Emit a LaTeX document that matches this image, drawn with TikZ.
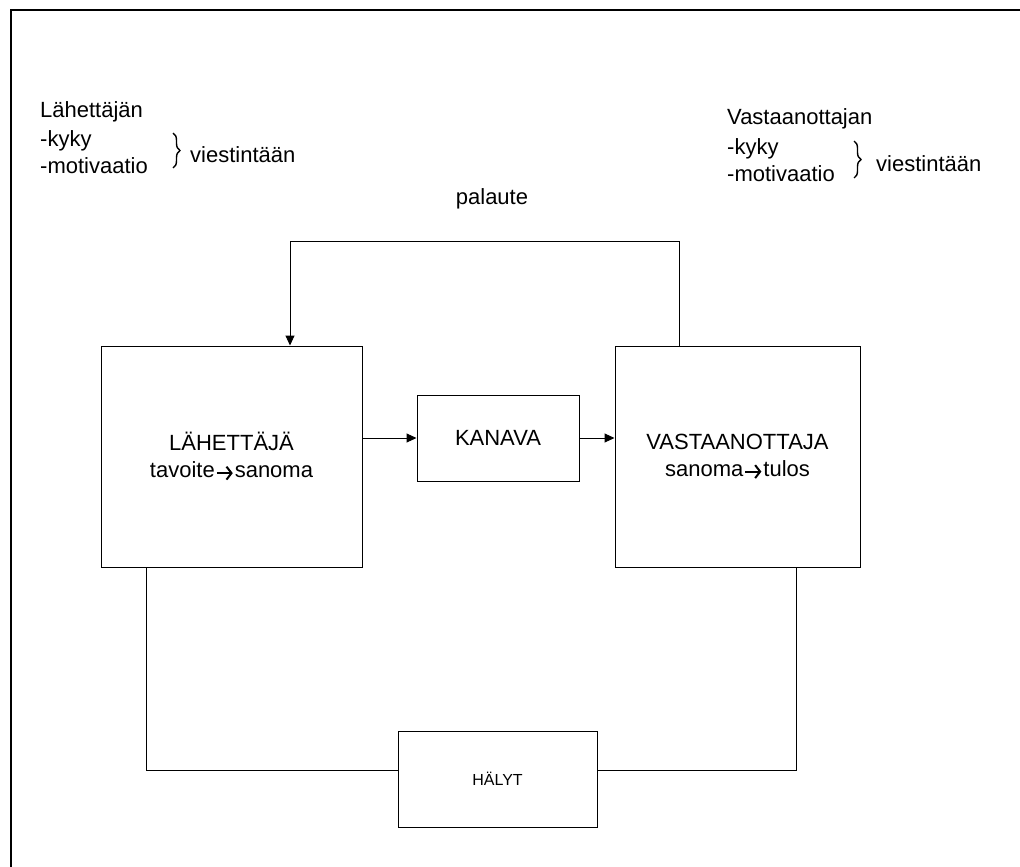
\documentclass[tikz,border=0pt]{standalone}
\usepackage{fontspec}
\setmainfont{Liberation Sans}
\usetikzlibrary{arrows.meta, decorations.pathreplacing}
\tikzset{
    blok/.style={draw, line width=1pt, align=center, font=\fontsize{22}{27}\selectfont},
    isoblok/.style={blok, minimum width=261pt, minimum height=221pt},
    pieniblok/.style={draw, line width=1pt, minimum width=199pt, minimum height=96pt, font=\fontsize{16}{19}\selectfont},
    teksti/.style={anchor=base west, inner sep=0pt, font=\fontsize{22}{26}\selectfont},
    nuoli/.style={-{Triangle[length=10pt,width=9pt]}, line width=1pt},
    yhteys/.style={line width=1pt},
    sulje/.style={decorate, decoration={brace, amplitude=7pt}, line width=1.4pt},
}
\newcommand{\nuolim}{\kern1pt\tikz[baseline=-0.4ex]\draw[line width=2pt, -{Straight Barb[length=5pt,width=13pt]}] (0pt,0pt) -- (16pt,0pt);\kern1pt}

\begin{document}
\begin{tikzpicture}[x=1pt, y=-1pt]
    \useasboundingbox (0,0) rectangle (1020,867);
        \coordinate (kehysA) at (11,867);
        \coordinate (kehysB) at (11,10);
        \coordinate (kehysC) at (1020,10);
        \draw[line width=1.5pt] (kehysA) -- (kehysB) -- (kehysC);
        \node[isoblok] (lah) at (231.5,456.5) {LÄHETTÄJÄ\\tavoite\nuolim sanoma};
        \node[blok, minimum width=162pt, minimum height=86pt] (kan) at (498,438) {KANAVA};
        \node[isoblok, minimum width=245pt] (vas) at (737.5,456.5) {VASTAANOTTAJA\\sanoma\nuolim tulos};
        \node[pieniblok] (hal) at (497.5,779) {HÄLYT};
        \node[teksti] (lahOtsikko) at (40,117) {Lähettäjän};
        \node[teksti] (lahKyky)    at (40,146) {-kyky};
        \node[teksti] (lahMot)     at (40,173) {-motivaatio};
        \coordinate (lahSa) at (173,133);
        \coordinate (lahSb) at (173,168);
        \draw[sulje] (lahSa) -- (lahSb);
        \node[teksti] (lahVie)     at (190,162) {viestintään};
        \node[teksti] (vasOtsikko) at (727,124) {Vastaanottajan};
        \node[teksti] (vasKyky)    at (727,154) {-kyky};
        \node[teksti] (vasMot)     at (727,181) {-motivaatio};
        \coordinate (vasSa) at (854,141);
        \coordinate (vasSb) at (854,178);
        \draw[sulje] (vasSa) -- (vasSb);
        \node[teksti] (vasVie)     at (876,171) {viestintään};
        \node[teksti, anchor=base] (pal) at (492,204) {palaute};
        \coordinate (palO) at (679,241);
        \coordinate (palV) at (290,241);
        \draw[nuoli] (vas.north -| palO) -- (palO) -- (palV) -- (lah.north -| palV);
        \draw[nuoli] (lah.east |- kan.west) -- (kan.west);
        \draw[nuoli] (kan.east) -- (vas.west |- kan.east);
        \coordinate (halV) at (146,770);
        \coordinate (halO) at (796,770);
        \draw[yhteys] (lah.south -| halV) -- (halV) -- (hal.west |- halV);
        \draw[yhteys] (vas.south -| halO) -- (halO) -- (hal.east |- halO);
    \end{tikzpicture}
\end{document}
